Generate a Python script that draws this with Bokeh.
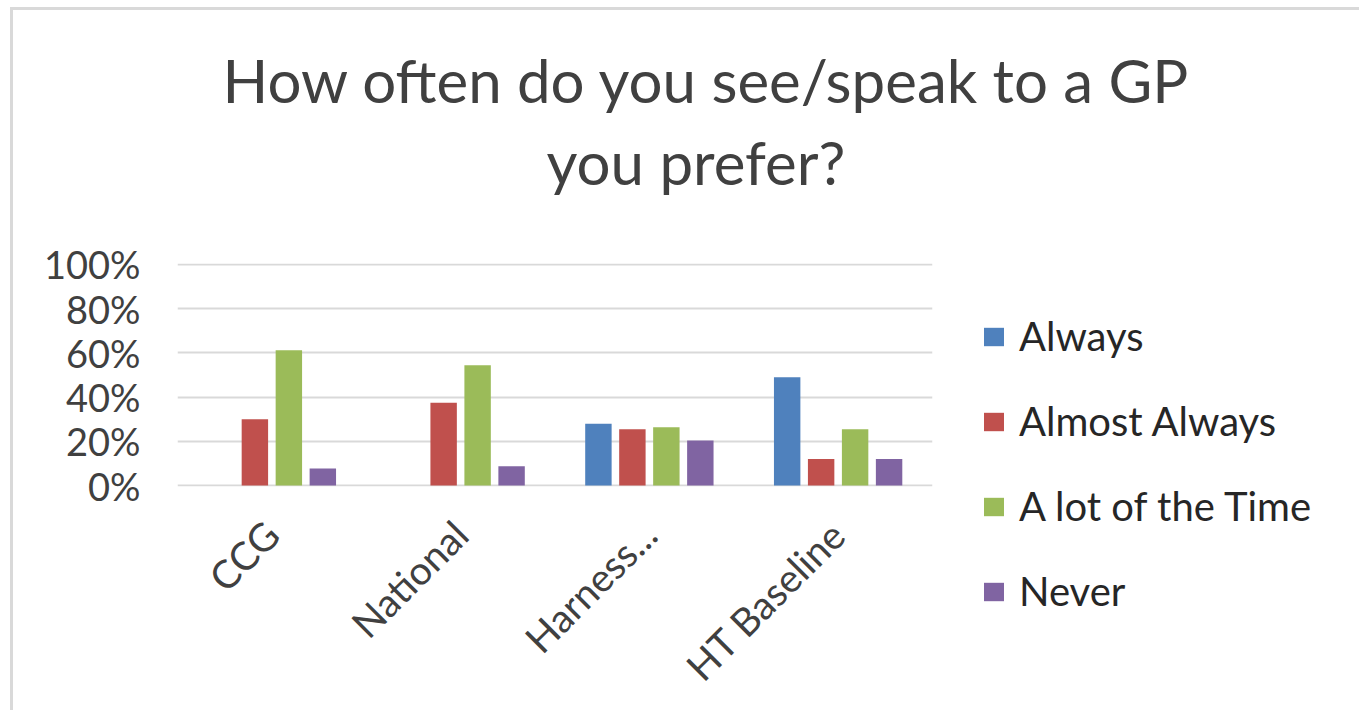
from bokeh.plotting import figure
from bokeh.models import (ColumnDataSource, FactorRange, Range1d, NumeralTickFormatter,
                          FixedTicker, Legend, LegendItem, Title)
from bokeh.transform import dodge
from bokeh.embed import file_html
from bokeh.resources import INLINE

# ---- data ----
categories = ["CCG", "National", "Harness...", "HT Baseline"]
series_names = ["Always", "Almost Always", "A lot of the Time", "Never"]
always = [0.0, 0.0, 0.28, 0.49]
almost_always = [0.30, 0.375, 0.255, 0.12]
a_lot = [0.612, 0.544, 0.264, 0.255]
never = [0.077, 0.087, 0.204, 0.12]
y_ticks = [0, 0.2, 0.4, 0.6, 0.8, 1.0]
title_line1 = "How often do you see/speak to a GP"
title_line2 = "you prefer?"

colors = ["#4F81BD", "#C0504D", "#9BBB59", "#8064A2"]
FONT = "Lato"
TEXT = "#404040"

src = ColumnDataSource(dict(cat=categories, always=always, almost=almost_always,
                            alot=a_lot, never=never))

p = figure(frame_width=755, frame_height=223, title=None,
           x_range=FactorRange(*categories), y_range=Range1d(-0.004, 1.004),
           output_backend="svg", toolbar_location=None,
           min_border_left=164, min_border_right=0, min_border_top=253, min_border_bottom=224)
p.styles = {"margin-left": "10px", "margin-top": "7px",
            "border-top": "3px solid #d9d9d9", "border-left": "3px solid #d9d9d9"}
p.outline_line_color = None
p.background_fill_color = "white"
p.border_fill_color = "white"

cols = ["always", "almost", "alot", "never"]
offsets = [-0.27, -0.09, 0.09, 0.27]
renderers = []
for c, off, col in zip(cols, offsets, colors):
    r = p.vbar(x=dodge("cat", off, range=p.x_range), top=c, width=0.14, source=src,
               fill_color=col, line_color=None)
    renderers.append(r)


def make_title(txt, off, so):
    kw = dict(text=txt, align="left", offset=off, text_font=FONT, text_font_size="60px",
              text_font_style="normal", text_color=TEXT)
    try:
        return Title(standoff=so, **kw)
    except Exception:
        return Title(standoff=0, **kw)


# title: two lines, stacked above the frame (first added is nearest the frame)
p.add_layout(make_title(title_line2, 369, 132), "above")
p.add_layout(make_title(title_line1, 45, -116), "above")

# axes
p.yaxis.ticker = FixedTicker(ticks=y_ticks)
p.yaxis.formatter = NumeralTickFormatter(format="0%")
p.yaxis.axis_line_color = None
p.yaxis.major_tick_line_color = None
p.yaxis.minor_tick_line_color = None
p.yaxis.major_tick_out = 0
p.yaxis.major_tick_in = 0
p.yaxis.minor_tick_out = 0
p.yaxis.major_label_standoff = 37
p.yaxis.major_label_text_font = FONT
p.yaxis.major_label_text_font_size = "38px"
p.yaxis.major_label_text_color = TEXT

p.xaxis.axis_line_color = None
p.xaxis.major_tick_line_color = None
p.xaxis.minor_tick_line_color = None
p.xaxis.major_tick_out = 0
p.xaxis.major_tick_in = 0
p.xaxis.major_label_orientation = 0.7854
p.xaxis.major_label_standoff = 41
p.xaxis.major_label_text_font = FONT
p.xaxis.major_label_text_font_size = "39px"
p.xaxis.major_label_text_color = TEXT

p.xgrid.grid_line_color = None
p.ygrid.grid_line_color = "#d9d9d9"
p.ygrid.grid_line_width = 2
p.ygrid.ticker = FixedTicker(ticks=y_ticks)

legend = Legend(items=[LegendItem(label=n, renderers=[r]) for n, r in zip(series_names, renderers)],
                location="top_left", orientation="vertical",
                glyph_width=25, glyph_height=23, label_height=48, spacing=37,
                label_standoff=13, padding=0, margin=49, border_line_color=None,
                background_fill_alpha=0,
                label_text_font=FONT, label_text_font_size="40px", label_text_color="#262626")
p.add_layout(legend, "right")

open("out.html", "w").write(file_html(p, INLINE))
